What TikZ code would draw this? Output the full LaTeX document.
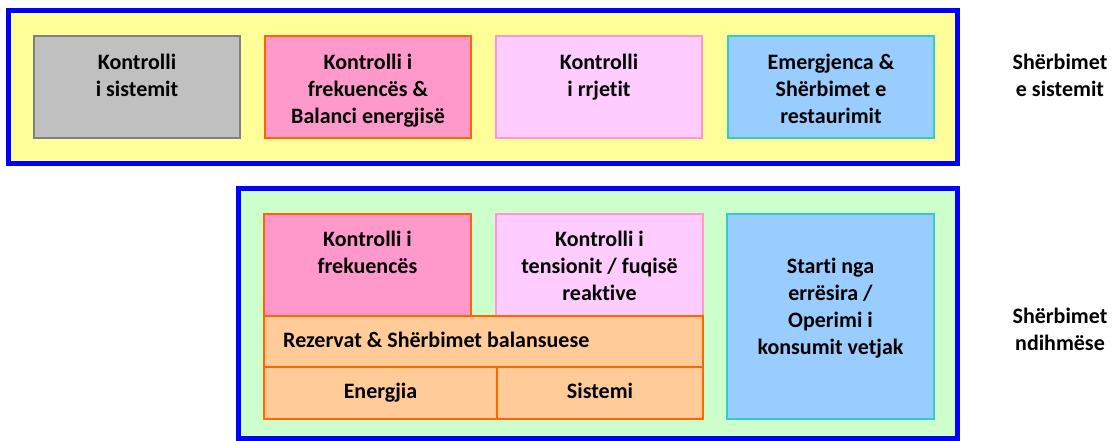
\documentclass[tikz,border=0pt]{standalone}
\usepackage{fontspec}
\setmainfont{Carlito}[Ligatures=NoCommon]
\definecolor{frameblue}{RGB}{0,0,255}
\definecolor{yellowF}{RGB}{255,255,153}
\definecolor{greenF}{RGB}{204,255,204}
\definecolor{grayF}{RGB}{192,192,192}
\definecolor{grayB}{RGB}{128,128,128}
\definecolor{pinkF}{RGB}{255,153,204}
\definecolor{orangeB}{RGB}{255,102,0}
\definecolor{lpinkF}{RGB}{255,204,255}
\definecolor{lblueF}{RGB}{153,204,255}
\definecolor{tealB}{RGB}{51,204,204}
\definecolor{peachF}{RGB}{255,204,153}
\begin{document}
\begin{tikzpicture}[x=1pt,y=-1pt,
  frame/.style={draw=frameblue, line width=5pt},
  box/.style={line width=2pt, inner sep=0pt, anchor=north west},
  txt/.style={font=\fontsize{22}{27}\selectfont\bfseries, align=center, inner sep=0pt, anchor=north},
  lbl/.style={font=\fontsize{22}{27}\selectfont\bfseries, align=center, inner sep=0pt},
]
\useasboundingbox (0,0) rectangle (1112,441);
% top frame
\draw[frame, fill=yellowF] (8.5,10.5) rectangle (957.5,163.5);
\node[box, draw=grayB, fill=grayF, minimum width=206pt, minimum height=102pt] (b1) at (33,35) {};
\node[box, draw=orangeB, fill=pinkF, minimum width=206pt, minimum height=102pt] (b2) at (264,35) {};
\node[box, draw=pinkF, fill=lpinkF, minimum width=206pt, minimum height=102pt] (b3) at (495,35) {};
\node[box, draw=tealB, fill=lblueF, minimum width=206pt, minimum height=102pt] (b4) at (727,35) {};
\node[txt] (t1) at ([yshift=-15.3pt]b1.north) {\strut Kontrolli\\i sistemit};
\node[txt] (t2) at ([yshift=-15.3pt]b2.north) {\strut Kontrolli i\\frekuencës \&\\Balanci energjisë};
\node[txt] (t3) at ([yshift=-15.3pt]b3.north) {\strut Kontrolli\\i rrjetit};
\node[txt] (t4) at ([yshift=-15.3pt]b4.north) {\strut Emergjenca \&\\Shërbimet e\\restaurimit};
\node[lbl] (s1) at (1060,75.5) {Shërbimet\\e sistemit};
% bottom frame
\draw[frame, fill=greenF] (238.5,188.5) rectangle (957.5,438.5);
\node[box, draw=orangeB, fill=pinkF, minimum width=207pt, minimum height=102pt] (c1) at (263,213) {};
\node[box, draw=pinkF, fill=lpinkF, minimum width=207pt, minimum height=102pt] (c2) at (495,213) {};
\node[box, draw=orangeB, fill=peachF, minimum width=439pt, minimum height=51pt] (c3) at (263,315) {};
\node[box, draw=orangeB, fill=peachF, minimum width=233pt, minimum height=52pt] (c4) at (263,366) {};
\node[box, draw=orangeB, fill=peachF, minimum width=206pt, minimum height=52pt] (c5) at (496,366) {};
\node[box, draw=tealB, fill=lblueF, minimum width=207pt, minimum height=205pt] (c6) at (726,213) {};
\node[txt] (u1) at ([yshift=-14.8pt]c1.north) {\strut Kontrolli i\\frekuencës};
\node[txt] (u2) at ([yshift=-14.8pt]c2.north) {\strut Kontrolli i\\tensionit / fuqisë\\reaktive};
\node[lbl, anchor=base west] (u3) at (283,347) {Rezervat \& Shërbimet balansuese};
\node[lbl, anchor=base] (u4) at (c4.center |- 0,398) {Energjia};
\node[lbl, anchor=base] (u5) at (c5.center |- 0,398) {Sistemi};
\node[txt] (u6) at ([yshift=-41.5pt]c6.north) {\strut Starti nga\\errësira /\\Operimi i\\konsumit vetjak};
\node[lbl] (s2) at (1060,329) {Shërbimet\\ndihmëse};
\end{tikzpicture}
\end{document}
